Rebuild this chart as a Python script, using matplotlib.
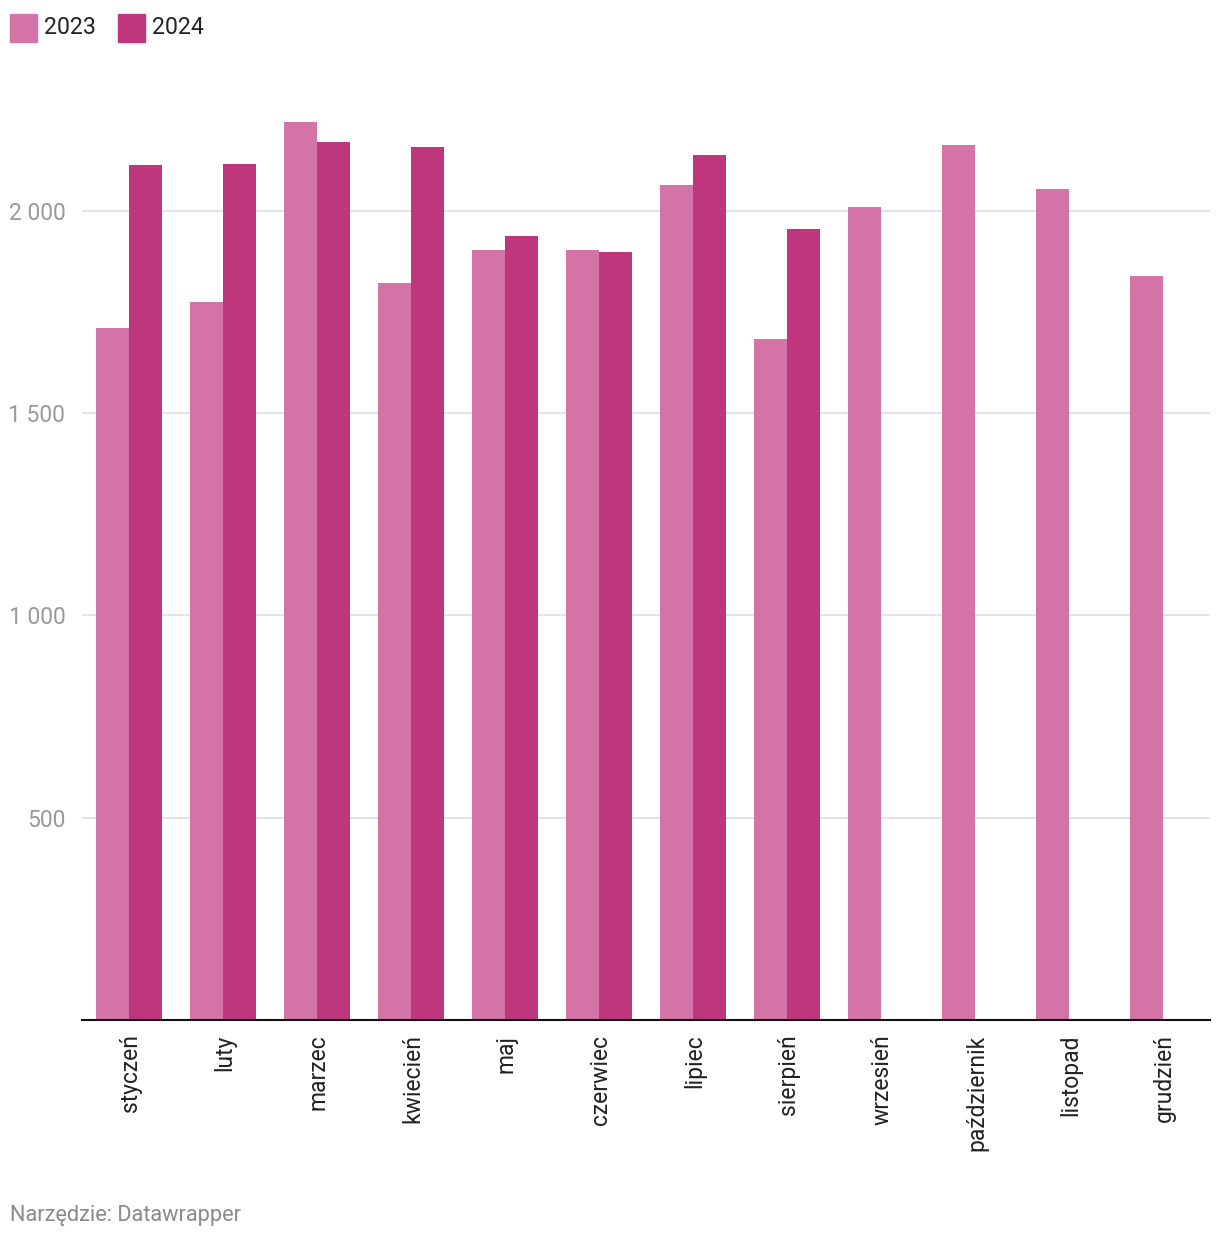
import matplotlib
matplotlib.use('Agg')
import matplotlib.pyplot as plt
from matplotlib.patches import Rectangle
import numpy as np

plt.rcParams['font.family'] = ['Roboto', 'DejaVu Sans']

months = ['styczeń', 'luty', 'marzec', 'kwiecień', 'maj', 'czerwiec',
          'lipiec', 'sierpień', 'wrzesień', 'październik', 'listopad', 'grudzień']
values_2023 = [1711, 1775, 2220, 1822, 1903, 1903, 2064, 1683, 2010, 2163, 2054, 1839]
values_2024 = [2114, 2116, 2170, 2158, 1938, 1899, 2138, 1955]
y_ticks = [500, 1000, 1500, 2000]
y_tick_labels = ['500', '1 000', '1 500', '2 000']

color_2023 = '#d473a6'
color_2024 = '#be377d'

fig = plt.figure(figsize=(12.2, 12.4), dpi=100)
ax = fig.add_axes([82 / 1220, 1 - 1020 / 1240, (1210 - 82) / 1220, (1020 - 89.6) / 1240])

x = np.arange(len(months))
w = 0.351
ax.bar(x - w / 2, values_2023, width=w, color=color_2023, zorder=2)
ax.bar(x[:len(values_2024)] + w / 2, values_2024, width=w, color=color_2024, zorder=2)

ax.set_xlim(-0.5, 11.5)
ax.set_ylim(0, 2300)

ax.set_yticks(y_ticks)
ax.set_yticklabels(y_tick_labels, fontsize=16.5, color='#9a9a9a')
ax.tick_params(axis='y', length=0, pad=12)
ax.grid(axis='y', color='#e2e2e2', linewidth=1.3, zorder=0)

ax.set_xticks(x + 0.015)
ax.set_xticklabels(months, rotation=90, fontsize=16.5, color='#222222', va='top')
ax.tick_params(axis='x', length=0, pad=10.5)

for s in ['top', 'right', 'left']:
    ax.spines[s].set_visible(False)
ax.spines['bottom'].set_color('#111111')
ax.spines['bottom'].set_linewidth(1.5)
ax.spines['bottom'].set_zorder(3)

# legend
W, H = 1220, 1240
for px, col, lab in [(10, color_2023, '2023'), (118, color_2024, '2024')]:
    fig.add_artist(Rectangle((px / W, 1 - 42 / H), 27 / W, 28 / H,
                             transform=fig.transFigure, color=col))
    fig.text((px + 34) / W, 1 - 27.5 / H, lab, fontsize=16.7, color='#222222', va='center')

fig.text(10 / W, 1 - 1216 / H, 'Narzędzie: Datawrapper', fontsize=15.7,
         color='#8a8a8a', va='center')

plt.savefig('out.png', dpi=100)
plt.close()
